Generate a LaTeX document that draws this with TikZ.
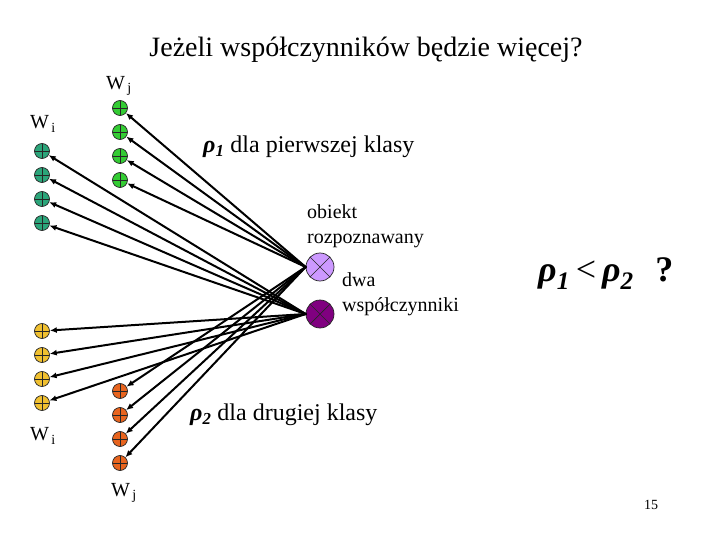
\documentclass[tikz,border=0pt]{standalone}
\usepackage{fontspec}
\setmainfont{Liberation Serif}
\usetikzlibrary{arrows.meta}
\definecolor{wteal}{HTML}{2BA57A}
\definecolor{wgreen}{HTML}{33CC33}
\definecolor{wgold}{HTML}{F0C030}
\definecolor{worange}{HTML}{E8641E}
\definecolor{objlight}{HTML}{CC99FF}
\definecolor{objdark}{HTML}{800080}
\newcommand{\rhosub}[1]{\textbf{\textit{ρ}}\textsubscript{\textbf{\textit{#1}}}}

\begin{document}
\begin{tikzpicture}[x=1pt,y=-1pt,line cap=round,line join=round,
    wnode/.style={circle,draw=black!85,line width=0.7pt,minimum size=15pt,inner sep=0pt,
      path picture={\draw[black!85,line width=0.7pt]
        (path picture bounding box.north) -- (path picture bounding box.south)
        (path picture bounding box.west) -- (path picture bounding box.east);}},
    objnode/.style={circle,draw=black!85,line width=0.7pt,minimum size=28pt,inner sep=0pt,
      path picture={\draw[black!85,line width=0.7pt]
        (path picture bounding box.north west) -- (path picture bounding box.south east)
        (path picture bounding box.north east) -- (path picture bounding box.south west);}},
    link/.style={-{Latex[length=7pt,width=6pt]},line width=2pt},
    lbl/.style={font=\fontsize{20}{25}\selectfont,inner sep=0pt}]
  \useasboundingbox (0,0) rectangle (720,540);

  % weights
  \foreach \k in {1,...,4} {
    \node[wnode,fill=wgreen] (gj\k) at (120,{84+24*\k}) {};
    \node[wnode,fill=wteal] (ti\k) at (42,{127+24*\k}) {};
    \node[wnode,fill=wgold] (yi\k) at (42,{307+24*\k}) {};
    \node[wnode,fill=worange] (oj\k) at (120,{367+24*\k}) {};
  }

  % two coefficients of the object
  \node[objnode,fill=objlight] (up) at (320,267) {};
  \node[objnode,fill=objdark] (low) at (320,314) {};

  \foreach \k in {1,...,4} {
    \draw[link] (up.west) -- (gj\k);
    \draw[link] (low.west) -- (ti\k);
    \draw[link] (low.west) -- (yi\k);
    \draw[link] (up.west) -- (oj\k);
  }

  % texts
  \node[font=\fontsize{28}{34}\selectfont] (title) at (366,50) {Jeżeli współczynników będzie więcej?};
  \node[lbl] (wjtop) at (119,86) {W\textsubscript{\,j}};
  \node[lbl] (witop) at (43,124) {W\textsubscript{\,i}};
  \node[lbl] (wibot) at (43,436) {W\textsubscript{\,i}};
  \node[lbl] (wjbot) at (124,493) {W\textsubscript{\,j}};
  \node[lbl,font=\fontsize{24}{28}\selectfont,anchor=west] (cls1) at (203,147) {\rhosub{1} dla pierwszej klasy};
  \node[lbl,font=\fontsize{24}{28}\selectfont,anchor=west] (cls2) at (190,415) {\rhosub{2} dla drugiej klasy};
  \node[lbl,anchor=north west,align=left] (objtxt) at (307,204) {obiekt\\rozpoznawany};
  \node[lbl,anchor=north west,align=left] (coeftxt) at (342,272) {dwa\\współczynniki};
  \node[font=\fontsize{36}{42}\selectfont,anchor=west,inner sep=0pt] (ask) at (538,274)
    {\rhosub{1}\,<\,\rhosub{2}\hspace{0.6em}\textbf{?}};
  \node[font=\fontsize{14}{16}\selectfont] (page) at (651,505) {15};
\end{tikzpicture}
\end{document}
